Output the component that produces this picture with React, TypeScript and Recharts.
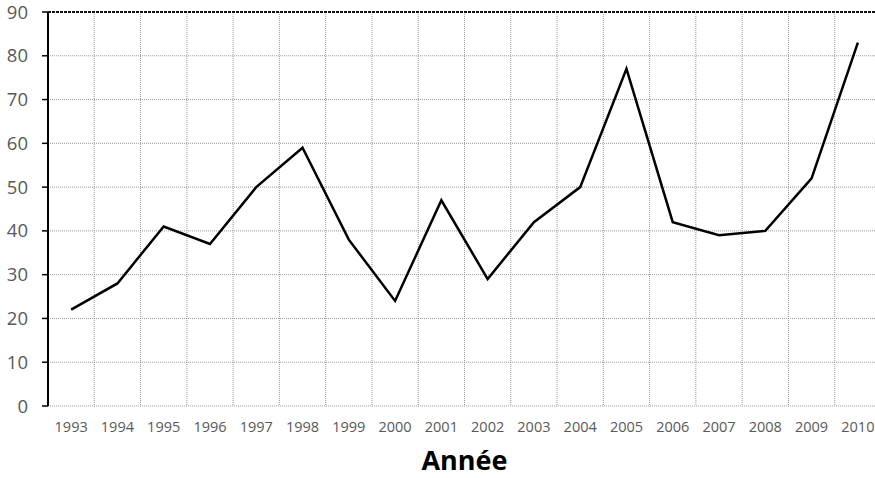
import { CartesianGrid, Line, LineChart, ReferenceLine, XAxis, YAxis } from "recharts";

const years = [
  "1993", "1994", "1995", "1996", "1997", "1998", "1999", "2000", "2001",
  "2002", "2003", "2004", "2005", "2006", "2007", "2008", "2009", "2010",
];
const values = [22, 28, 41, 37, 50, 59, 38, 24, 47, 29, 42, 50, 77, 42, 39, 40, 52, 83];
const yTicks = [0, 10, 20, 30, 40, 50, 60, 70, 80, 90];

// each year sits in the middle of its own cell, gridlines on the cell edges
const data = years.map((year, i) => ({ pos: i + 0.5, year, value: values[i] }));
const labelTicks = years.map((_, i) => i + 0.5);
const edgeTicks = [...years.map((_, i) => i), years.length];

const font = "'Open Sans', 'Noto Sans', sans-serif";

export default function App() {
  return (
    <div style={{ position: "absolute", left: 0, top: 0, width: 875, height: 478, overflow: "hidden", background: "#fff" }}>
      <LineChart width={881} height={478} data={data} margin={{ top: 12, right: 0, left: 0, bottom: 0 }}>
        <CartesianGrid
          xAxisId="grid"
          stroke="#999"
          strokeDasharray="1 1"
        />
        <XAxis
          xAxisId="grid"
          type="number"
          dataKey="pos"
          domain={[0, years.length]}
          ticks={edgeTicks}
          height={0}
          axisLine={{ stroke: "#000", strokeWidth: 2 }}
          tickLine={{ stroke: "#000", strokeWidth: 1.5 }}
          tickSize={5}
          tick={() => <g />}
        />
        <XAxis
          xAxisId="labels"
          type="number"
          dataKey="pos"
          domain={[0, years.length]}
          ticks={labelTicks}
          tickFormatter={(v) => years[Math.floor(v)]}
          height={72}
          axisLine={false}
          tickLine={false}
          tickMargin={10}
          interval={0}
          tick={{ fill: "#595959", fontSize: 14.5, fontFamily: font }}
          label={{
            value: "Année",
            position: "insideBottom",
            offset: 8,
            style: { fill: "#000", fontSize: 27, fontWeight: 700, fontFamily: font },
          }}
        />
        <YAxis
          type="number"
          domain={[0, 90]}
          ticks={yTicks}
          width={48}
          axisLine={{ stroke: "#000", strokeWidth: 2 }}
          tickLine={{ stroke: "#000", strokeWidth: 1.5 }}
          tickSize={6}
          tickMargin={14}
          interval={0}
          tick={{ fill: "#595959", fontSize: 18.5, fontFamily: font }}
        />
        <ReferenceLine xAxisId="labels" y={90} stroke="#111" strokeWidth={2} strokeDasharray="3 1" />
        <Line
          xAxisId="labels"
          type="linear"
          dataKey="value"
          stroke="#000"
          strokeWidth={2.5}
          dot={false}
          isAnimationActive={false}
        />
      </LineChart>
    </div>
  );
}
